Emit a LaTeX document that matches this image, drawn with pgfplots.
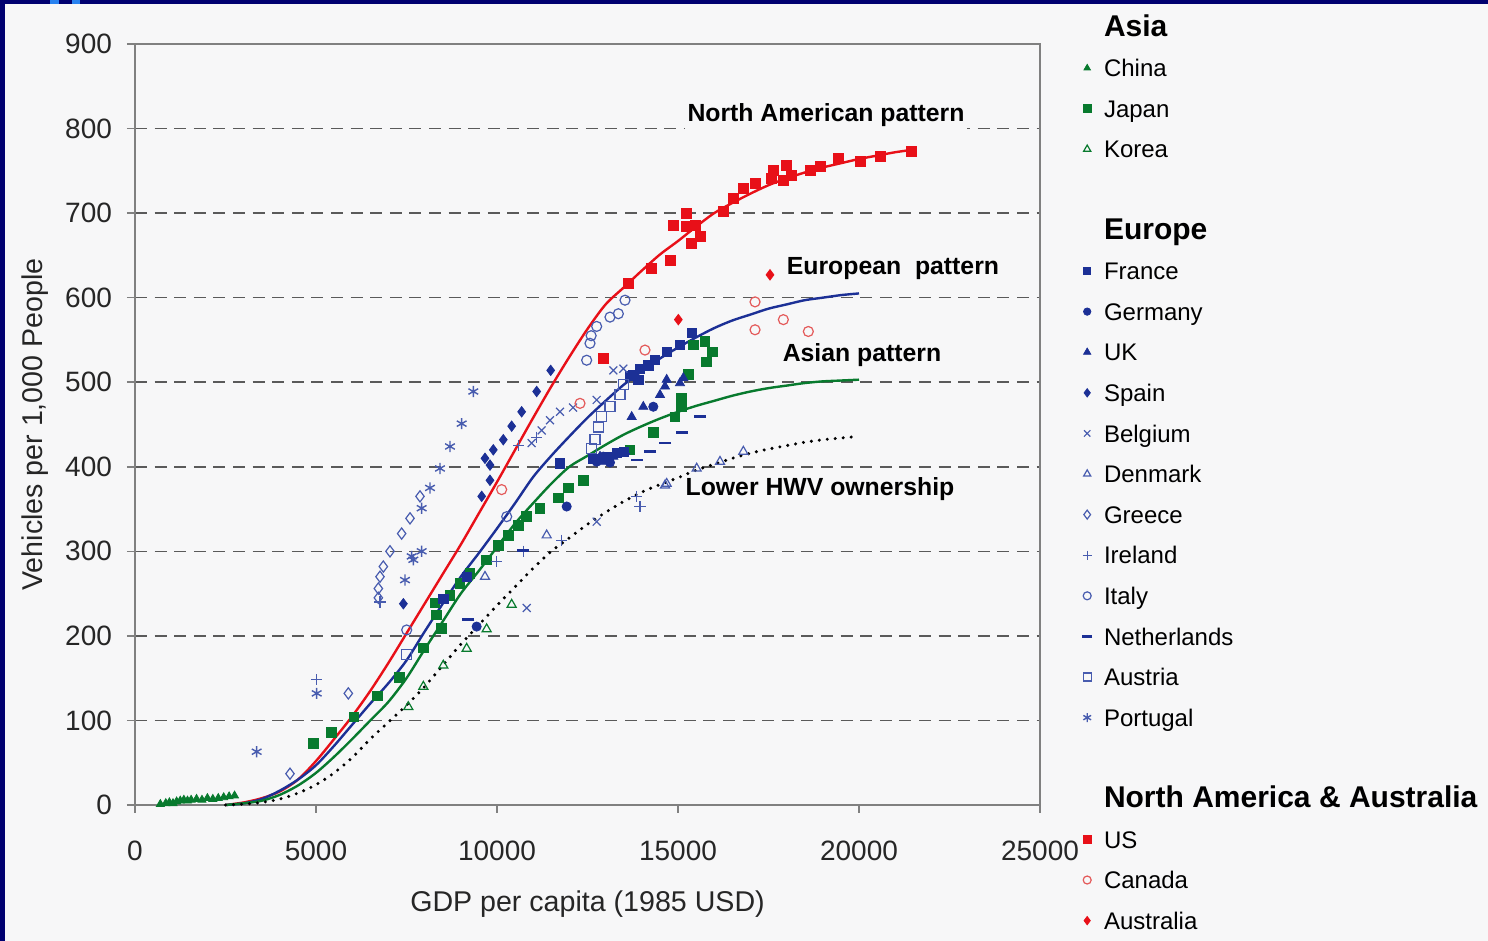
\documentclass[border=0pt]{standalone}
\usepackage{fontspec}
\setmainfont{Liberation Sans}
\usepackage{pgfplots}
\pgfplotsset{compat=1.18}
\definecolor{navyb}{RGB}{0,0,112}
\definecolor{bg}{RGB}{247,247,248}
\definecolor{lbl}{RGB}{40,130,240}
\definecolor{cred}{RGB}{232,16,24}
\definecolor{lred}{RGB}{228,90,90}
\definecolor{cblue}{RGB}{28,48,150}
\definecolor{oblue}{RGB}{72,92,175}
\definecolor{cgreen}{RGB}{8,122,46}
\definecolor{axgray}{RGB}{128,128,128}
\definecolor{gridgray}{RGB}{90,90,90}
\begin{document}
\begin{tikzpicture}
\useasboundingbox (0,0) rectangle (744pt,470.5pt);
\fill[navyb] (0,0) rectangle (744pt,470.5pt);
\fill[bg] (2.5pt,0) rectangle (744pt,468.5pt);
\fill[lbl] (25pt,468.5pt) rectangle (29.5pt,470.5pt);
\fill[lbl] (36pt,468.5pt) rectangle (40pt,470.5pt);
\begin{axis}[
  at={(67.5pt,68pt)}, anchor=south west,
  width=452.5pt, height=380.5pt, scale only axis,
  xmin=0, xmax=25000, ymin=0, ymax=900,
  xtick={0,5000,...,25000}, ytick={0,100,...,900},
  scaled x ticks=false,
  /pgf/number format/assume math mode=true,
  /pgf/number format/set thousands separator={},
  tick align=outside, tick pos=left, major tick length=4pt,
  every tick/.style={axgray, line width=0.75pt},
  axis line style={axgray, line width=0.75pt},
  ymajorgrids,
  major grid style={gridgray, line width=0.8pt, dash pattern=on 6pt off 3.8pt},
  tick label style={font=\fontsize{14}{14}\selectfont, text=black!85},
  xticklabel style={yshift=-10.5pt},
  yticklabel style={xshift=-4pt},
  xlabel={GDP per capita (1985 USD)},
  ylabel={Vehicles per 1,000 People},
  label style={font=\fontsize{14.3}{14.3}\selectfont, text=black!85},
  xlabel style={at={(axis description cs:0.5,-0.1302)}, anchor=center},
  ylabel style={at={(axis description cs:-0.1105,0.5)}, anchor=center},
  clip=false,
  legend image code/.code={\draw[mark repeat=2,mark phase=2,#1] plot coordinates {(0pt,0pt)(3pt,0pt)(6pt,0pt)};},
  legend image post style={scale=0.8},
  legend cell align=left,
  legend style={at={(1.0464,1.049)}, anchor=north west, draw=none, fill=none,
    inner sep=0pt, column sep=6pt, row sep=0pt,
    font=\fontsize{12}{12}\selectfont,
    nodes={inner sep=0pt, text height=14.45pt, text depth=5.85pt}},
]
\addlegendimage{empty legend}\addlegendentry{\fontsize{15}{15}\selectfont\bfseries Asia}
% China
\addplot[only marks, mark=triangle*, mark size=2.3pt, color=cgreen] coordinates {
(700,1)(850,2)(950,3)(1050,2)(1150,4)(1250,5)(1350,6)(1450,5)(1550,6)(1700,7)(1850,6)(2000,8)(2150,7)(2300,8)(2450,9)(2600,10)(2750,11)};
\addlegendentry{China}
% Japan
\addplot[only marks, mark=square*, mark size=2.4pt, color=cgreen] coordinates {
(4926,73)(5433,86)(6050,104)(6694,129)(7302,151)(7965,186)(8287,239)(8333,225)(8471,209)(8701,248)(8978,262)(9254,274)(9714,290)(10037,307)(10313,319)(10589,331)(10820,341)(11188,351)(11694,363)(11970,375)(12384,384)(13674,420)(14318,441)(14917,459)(15101,471)(15101,481)(15285,509)(15424,544)(15746,548)(15792,524)(15958,536)};
\addlegendentry{Japan}
% Korea
\addplot[only marks, mark=triangle, mark size=2.6pt, color=cgreen, mark options={line width=0.6pt}] coordinates {
(7550,116)(7965,140)(8517,165)(9162,185)(9714,208)(10405,237)};
\addlegendentry{Korea}
\addlegendimage{empty legend}\addlegendentry{}
\addlegendimage{empty legend}\addlegendentry{\fontsize{15}{15}\selectfont\bfseries Europe}
% France
\addplot[only marks, mark=square*, mark size=2.3pt, color=cblue] coordinates {
(8517,244)(9162,270)(11740,404)(12661,409)(13100,412)(13320,416)(13500,418)(13674,507)(13766,509)(13904,503)(13950,516)(14180,520)(14364,526)(14687,536)(15055,544)(15378,558)};
\addlegendentry{France}
% Germany
\addplot[only marks, mark=*, mark size=2.3pt, color=cblue] coordinates {
(9438,211)(11925,353)(12753,406)(12937,412)(13121,405)(14318,471)};
\addlegendentry{Germany}
% UK
\addplot[only marks, mark=triangle*, mark size=2.6pt, color=cblue] coordinates {
(12799,408)(12845,412)(12983,406)(13213,412)(13721,459)(14042,471)(14503,485)(14641,495)(14687,503)(15055,499)(15147,505)};
\addlegendentry{UK}
% Spain
\addplot[only marks, mark=diamond*, mark size=2.6pt, color=cblue] coordinates {
(7413,238)(9577,365)(9806,384)(9806,402)(9668,410)(9898,420)(10174,432)(10405,448)(10681,465)(11096,489)(11483,514)};
\addlegendentry{Spain}
% Belgium
\addplot[only marks, mark=x, mark size=2.8pt, color=oblue, mark options={line width=0.6pt}] coordinates {
(10958,428)(11234,443)(11464,455)(11740,465)(12100,470)(12753,479)(13213,514)(13490,516)(10820,233)(12753,335)};
\addlegendentry{Belgium}
% Denmark
\addplot[only marks, mark=triangle, mark size=2.6pt, color=oblue, mark options={line width=0.6pt}] coordinates {
(9668,270)(11372,319)(14641,378)(14687,380)(15516,398)(16160,406)(16805,418)};
\addlegendentry{Denmark}
% Greece
\addplot[only marks, mark=diamond, mark size=2.8pt, color=oblue, mark options={line width=0.6pt}] coordinates {
(4282,37)(5893,132)(6722,245)(6722,256)(6768,270)(6860,282)(7044,300)(7366,321)(7597,339)(7873,365)};
\addlegendentry{Greece}
% Ireland
\addplot[only marks, mark=+, mark size=2.8pt, color=oblue, mark options={line width=0.6pt}] coordinates {
(5019,148)(6768,240)(9990,288)(10727,300)(11787,313)(13858,365)(13950,353)(10600,425)(11100,435)};
\addlegendentry{Ireland}
% Italy
\addplot[only marks, mark=o, mark size=2.5pt, color=oblue, mark options={line width=0.6pt}] coordinates {
(7505,207)(10268,341)(12477,526)(12569,546)(12600,555)(12753,566)(13121,577)(13352,581)(13536,597)};
\addlegendentry{Italy}
% Netherlands
\addplot[only marks, mark=-, mark size=3pt, color=cblue, mark options={line width=1.4pt}] coordinates {
(9208,219)(10727,301)(13500,415)(13858,408)(14227,418)(14641,428)(15101,441)(15608,459)};
\addlegendentry{Netherlands}
% Austria
\addplot[only marks, mark=square, mark size=2.5pt, color=oblue, mark options={line width=0.6pt}] coordinates {
(7505,178)(12615,422)(12707,432)(12799,447)(12891,459)(13121,471)(13398,485)(13490,497)};
\addlegendentry{Austria}
% Portugal
\addplot[only marks, mark=asterisk, mark size=2.8pt, color=oblue, mark options={line width=0.7pt}] coordinates {
(3361,63)(5019,132)(7458,266)(7643,294)(7689,290)(7919,300)(7919,351)(8149,375)(8425,398)(8701,424)(9024,451)(9346,489)};
\addlegendentry{Portugal}
\addlegendimage{empty legend}\addlegendentry{}
\addlegendimage{empty legend}\addlegendentry{\fontsize{15}{15}\selectfont\bfseries North America \& Australia}
% US
\addplot[only marks, mark=square*, mark size=2.5pt, color=cred] coordinates {
(12937,528)(13628,617)(14272,635)(14779,644)(14871,686)(15240,700)(15240,684)(15470,686)(15608,673)(15378,664)(16252,702)(16529,717)(16805,729)(17128,735)(17587,741)(17633,751)(17910,739)(18000,757)(18138,745)(18646,751)(18923,755)(19428,765)(20028,761)(20580,767)(21455,773)};
\addlegendentry{US}
% Canada
\addplot[only marks, mark=o, mark size=2.5pt, color=lred, mark options={line width=0.6pt}] coordinates {
(10129,373)(12293,475)(14088,538)(17128,595)(17128,562)(17910,574)(18600,560)};
\addlegendentry{Canada}
% Australia
\addplot[only marks, mark=diamond*, mark size=2.6pt, color=cred] coordinates {
(15009,574)(17541,627)};
\addlegendentry{Australia}
% pattern curves
\addplot[forget plot, no marks, cred, line width=1.2pt, smooth] coordinates {
(2500,0)(3000,3)(3500,8)(4000,16)(4500,30)(5000,52)(5500,78)(6000,105)(6500,135)(7000,168)(7500,203)(8000,238)(8500,273)(9000,308)(9500,345)(10000,382)(10500,420)(11000,458)(11500,495)(12000,530)(12500,563)(13000,592)(13500,612)(14000,632)(14500,651)(15000,667)(15500,684)(16000,700)(16500,712)(17000,723)(17500,733)(18000,741)(18500,748)(19000,754)(19500,759)(20000,764)(20500,768)(21000,772)(21500,775)};
\addplot[forget plot, no marks, cblue, line width=1.2pt, smooth] coordinates {
(2500,0)(3000,2)(3500,7)(4000,17)(4500,30)(5000,47)(5500,70)(6000,95)(6500,120)(7000,144)(7500,171)(8000,205)(8500,238)(9000,270)(9500,298)(10000,327)(10500,357)(11000,388)(11500,413)(12000,436)(12500,458)(13000,478)(13500,497)(14000,513)(14500,528)(15000,541)(15500,553)(16000,564)(16500,573)(17000,580)(17500,587)(18000,592)(18500,597)(19000,600)(19500,603)(20000,605)};
\addplot[forget plot, no marks, cgreen, line width=1.2pt, smooth] coordinates {
(2500,0)(3000,2)(3500,5)(4000,12)(4500,23)(5000,38)(5500,57)(6000,78)(6500,100)(7000,122)(7500,150)(8000,184)(8500,217)(9000,250)(9500,277)(10000,305)(10500,333)(11000,357)(11500,380)(12000,400)(12500,413)(13000,426)(13500,438)(14000,448)(14500,457)(15000,465)(15500,472)(16000,478)(16500,484)(17000,489)(17500,493)(18000,496)(18500,499)(19000,501)(19500,502)(20000,503)};
\addplot[forget plot, no marks, black, line width=1.7pt, line cap=round, dash pattern=on 0pt off 4pt, smooth] coordinates {
(2500,0)(3000,1)(3500,3)(4000,7)(4500,14)(5000,24)(5500,38)(6000,56)(6500,78)(7000,98)(7500,118)(8000,140)(8500,165)(9000,190)(9500,213)(10000,236)(10500,258)(11000,280)(11500,300)(12000,316)(12500,332)(13000,346)(13500,359)(14000,370)(14500,379)(15000,387)(15500,396)(16000,403)(16500,410)(17000,416)(17500,421)(18000,425)(18500,429)(19000,432)(19500,434)(20000,436)};
% annotations
\node[font=\fontsize{12.4}{12.4}\selectfont\bfseries, fill=bg, inner sep=1.5pt] at (axis cs:19088,816) {North American pattern};
\node[font=\fontsize{12.4}{12.4}\selectfont\bfseries, inner sep=0pt] at (axis cs:20939,634) {European~~pattern};
\node[font=\fontsize{12.4}{12.4}\selectfont\bfseries, inner sep=0pt] at (axis cs:20083,532) {Asian pattern};
\node[font=\fontsize{12.4}{12.4}\selectfont\bfseries, inner sep=0pt] at (axis cs:18922,374) {Lower HWV ownership};
\end{axis}
\end{tikzpicture}
\end{document}
